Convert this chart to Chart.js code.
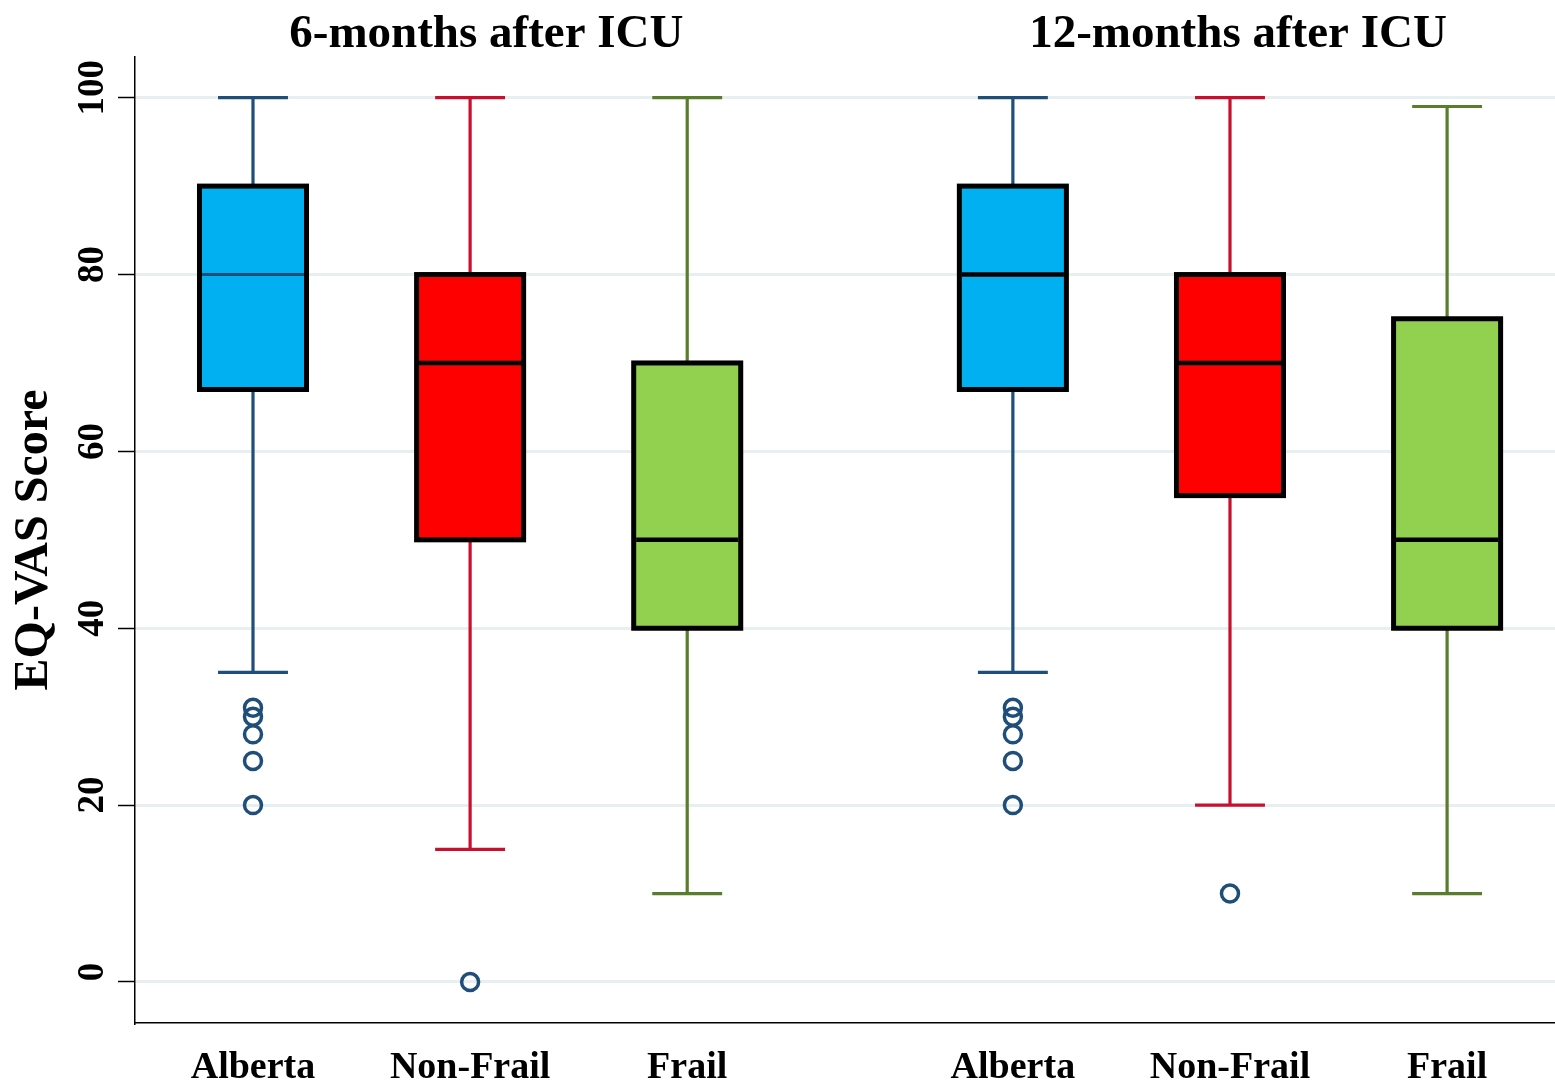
<!DOCTYPE html>
<html>
<head>
<meta charset="utf-8">
<script src="https://cdn.jsdelivr.net/npm/chart.js@4.4.1/dist/chart.umd.min.js"></script>
<style>
  html, body { margin: 0; padding: 0; background: #ffffff; overflow: hidden; }
  #wrap { width: 1555px; height: 1082px; }
  canvas { display: block; }
</style>
</head>
<body>
<div id="wrap"><canvas id="c" width="1555" height="1082"></canvas></div>
<script>
// EQ-VAS score distributions, 6 and 12 months after ICU
const groups = ['Alberta', 'Non-Frail', 'Frail', 'Alberta', 'Non-Frail', 'Frail'];
const positions = [0, 1, 2, 3.5, 4.5, 5.5];
const panelTitles = ['6-months after ICU', '12-months after ICU'];
const whiskerLow = [35, 15, 10, 35, 20, 10];
const q1 = [67, 50, 40, 67, 55, 40];
const median = [80, 70, 50, 80, 70, 50];
const q3 = [90, 80, 70, 90, 80, 75];
const whiskerHigh = [100, 100, 100, 100, 100, 99];
const outliers = [[20, 25, 28, 30, 31], [0], [], [20, 25, 28, 30, 31], [10], []];
const yTicks = [0, 20, 40, 60, 80, 100];

// styling
const SERIF = '"Liberation Serif", "Times New Roman", serif';
const boxFill = ['#00b0f0', '#ff0000', '#92d050', '#00b0f0', '#ff0000', '#92d050'];
const whiskerColor = ['#1f4e79', '#c8102e', '#5a7d2d', '#1f4e79', '#c8102e', '#5a7d2d'];
const medianColor = ['#1f4e79', '#000000', '#000000', '#000000', '#000000', '#000000'];
const medianWidth = [3, 4.5, 4.5, 4.5, 4.5, 4.5];
const BOX_HALF = 0.2465;
const CAP_HALF = 0.161;
const panelCenters = [1.075, 4.537];

const outlierPoints = [];
outliers.forEach((list, i) => list.forEach(v => outlierPoints.push({ x: positions[i], y: v })));

const boxPlugin = {
  id: 'boxes',
  beforeDatasetsDraw(chart) {
    const { ctx, scales: { x, y } } = chart;
    ctx.save();
    positions.forEach((p, i) => {
      const cx = x.getPixelForValue(p);
      const xl = x.getPixelForValue(p - BOX_HALF);
      const xr = x.getPixelForValue(p + BOX_HALF);
      const cl = x.getPixelForValue(p - CAP_HALF);
      const cr = x.getPixelForValue(p + CAP_HALF);
      const yLo = y.getPixelForValue(whiskerLow[i]);
      const yQ1 = y.getPixelForValue(q1[i]);
      const yMed = y.getPixelForValue(median[i]);
      const yQ3 = y.getPixelForValue(q3[i]);
      const yHi = y.getPixelForValue(whiskerHigh[i]);

      // whiskers and caps
      ctx.strokeStyle = whiskerColor[i];
      ctx.lineWidth = 3.2;
      ctx.lineCap = 'butt';
      ctx.beginPath();
      ctx.moveTo(cx, yLo); ctx.lineTo(cx, yQ1);
      ctx.moveTo(cx, yQ3); ctx.lineTo(cx, yHi);
      ctx.moveTo(cl, yLo); ctx.lineTo(cr, yLo);
      ctx.moveTo(cl, yHi); ctx.lineTo(cr, yHi);
      ctx.stroke();

      // interquartile box
      ctx.fillStyle = boxFill[i];
      ctx.fillRect(xl, yQ3, xr - xl, yQ1 - yQ3);
      ctx.strokeStyle = '#000000';
      ctx.lineWidth = 5;
      ctx.strokeRect(xl, yQ3, xr - xl, yQ1 - yQ3);

      // median
      ctx.strokeStyle = medianColor[i];
      ctx.lineWidth = medianWidth[i];
      ctx.beginPath();
      ctx.moveTo(xl + 2.5, yMed); ctx.lineTo(xr - 2.5, yMed);
      ctx.stroke();
    });
    ctx.restore();
  },
  afterDraw(chart) {
    const { ctx, scales: { x, y } } = chart;
    ctx.save();
    ctx.fillStyle = '#000000';
    // panel titles
    ctx.font = 'bold 47px ' + SERIF;
    ctx.textAlign = 'center';
    ctx.textBaseline = 'alphabetic';
    panelTitles.forEach((t, k) => ctx.fillText(t, x.getPixelForValue(panelCenters[k]), 47));
    // rotated y tick labels
    ctx.font = 'bold 37px ' + SERIF;
    yTicks.forEach(v => {
      ctx.save();
      ctx.translate(y.left + 103, y.getPixelForValue(v) - 10);
      ctx.rotate(-Math.PI / 2);
      ctx.textAlign = 'center';
      ctx.textBaseline = 'alphabetic';
      ctx.fillText(String(v), 0, 0);
      ctx.restore();
    });
    ctx.restore();
  }
};

new Chart(document.getElementById('c'), {
  type: 'scatter',
  data: {
    datasets: [{
      data: outlierPoints,
      pointStyle: 'circle',
      pointRadius: 8.5,
      pointHoverRadius: 8.5,
      borderWidth: 3.5,
      borderColor: '#1f4e79',
      backgroundColor: 'rgba(255,255,255,0)'
    }]
  },
  options: {
    responsive: false,
    animation: false,
    devicePixelRatio: 1,
    layout: { autoPadding: false, padding: { top: 57, left: 0, right: 0, bottom: 0 } },
    plugins: { legend: { display: false }, tooltip: { enabled: false }, title: { display: false } },
    scales: {
      x: {
        type: 'linear',
        min: -0.5435,
        max: 5.997,
        afterBuildTicks: s => { s.ticks = positions.map(v => ({ value: v })); },
        afterFit: s => { s.height = 59; s.paddingLeft = 0; s.paddingRight = 0; },
        ticks: {
          autoSkip: false,
          maxRotation: 0,
          padding: 22,
          color: '#000000',
          font: { family: SERIF, size: 38, weight: 'bold' },
          callback: (v, idx) => groups[idx]
        },
        grid: { display: false, drawTicks: false },
        border: { display: true, color: '#000000', width: 1.5 }
      },
      y: {
        type: 'linear',
        min: -4.64,
        max: 104.6,
        afterBuildTicks: s => { s.ticks = yTicks.map(v => ({ value: v })); },
        afterFit: s => { s.width = 135; s.paddingTop = 0; s.paddingBottom = 0; },
        ticks: { display: false },
        grid: {
          color: '#e8eff1',
          lineWidth: 3,
          drawTicks: true,
          tickLength: 17,
          tickColor: '#000000',
          tickWidth: 1.5
        },
        border: { display: true, color: '#000000', width: 1.5 },
        title: {
          display: true,
          text: 'EQ-VAS Score',
          color: '#000000',
          font: { family: SERIF, size: 48, weight: 'bold' },
          padding: { top: 6, bottom: 0 }
        }
      }
    }
  },
  plugins: [boxPlugin]
});
</script>
</body>
</html>
